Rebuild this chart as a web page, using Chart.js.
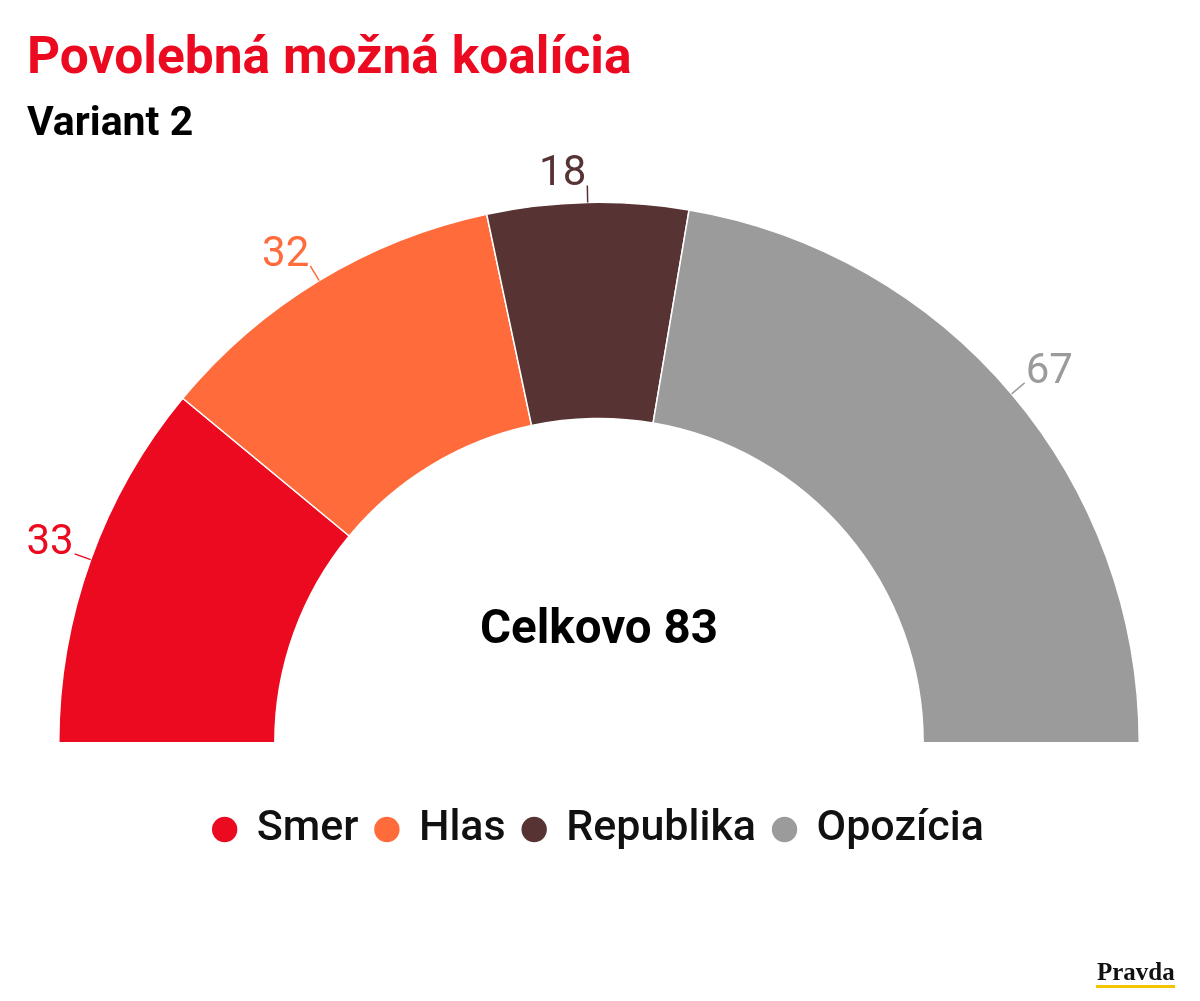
<!DOCTYPE html>
<html>
<head>
<meta charset="utf-8">
<script src="https://cdn.jsdelivr.net/npm/chart.js@4"></script>
<style>
  html, body { margin: 0; padding: 0; background: #fff; }
  #wrap { width: 1200px; height: 1001px; position: relative; }
</style>
</head>
<body>
<div id="wrap"><canvas id="myChart" width="1200" height="1001"></canvas></div>
<script>
// data
var parties = ['Smer', 'Hlas', 'Republika', 'Opozícia'];
var seats = [33, 32, 18, 67];
var coalition = ['Smer', 'Hlas', 'Republika'];
var colors = ['#EB0A20', '#FF6B3A', '#573333', '#9B9B9B'];

var titleText = 'Povolebná možná koalícia';
var subtitleText = 'Variant 2';
var totalLabel = 'Celkovo';

var coalitionTotal = 0;
parties.forEach(function (p, i) {
    if (coalition.indexOf(p) >= 0) coalitionTotal += seats[i];
});

// outside value labels with small leader lines
var valueLabels = {
    id: 'valueLabels',
    afterDatasetsDraw: function (chart) {
        var ctx = chart.ctx;
        var meta = chart.getDatasetMeta(0);
        ctx.save();
        ctx.font = '42px Roboto';
        ctx.textBaseline = 'alphabetic';
        meta.data.forEach(function (arc, i) {
            var p = arc.getProps(['x', 'y', 'startAngle', 'endAngle', 'outerRadius']);
            var mid = (p.startAngle + p.endAngle) / 2;
            var cos = Math.cos(mid), sin = Math.sin(mid);
            var r1 = p.outerRadius, r2 = p.outerRadius + 17;
            var x1 = p.x + cos * r1, y1 = p.y + sin * r1;
            var x2 = p.x + cos * r2, y2 = p.y + sin * r2;
            ctx.strokeStyle = colors[i];
            ctx.lineWidth = 1.5;
            ctx.beginPath();
            ctx.moveTo(x1, y1);
            ctx.lineTo(x2, y2);
            ctx.stroke();
            ctx.fillStyle = colors[i];
            ctx.textAlign = cos < 0 ? 'right' : 'left';
            ctx.fillText(String(seats[i]), x2 + (cos < 0 ? -1 : 1), y2);
        });
        ctx.restore();
    }
};

// titles, centre total and logo
var decorations = {
    id: 'decorations',
    afterDraw: function (chart) {
        var ctx = chart.ctx;
        var arc = chart.getDatasetMeta(0).data[0];
        ctx.save();
        ctx.textAlign = 'left';
        ctx.textBaseline = 'alphabetic';
        ctx.fillStyle = '#EB0A20';
        ctx.font = 'bold 51.5px Roboto';
        ctx.fillText(titleText, 27, 73);
        ctx.fillStyle = '#000';
        ctx.font = 'bold 41px Roboto';
        ctx.fillText(subtitleText, 27, 135);

        ctx.textAlign = 'center';
        ctx.font = 'bold 47.5px Roboto';
        ctx.fillText(totalLabel + ' ' + coalitionTotal, arc.x, arc.y - 100);

        // Pravda logo
        ctx.textAlign = 'left';
        ctx.font = 'bold 25px "Liberation Serif"';
        ctx.fillStyle = '#111';
        ctx.fillText('Pravda', 1097, 980);
        ctx.fillStyle = '#F5C400';
        ctx.fillRect(1096, 985, 79, 3);
        ctx.restore();
    }
};

var ctx = document.getElementById('myChart').getContext('2d');
var myChart = new Chart(ctx, {
    type: 'doughnut',
    data: {
        labels: parties,
        datasets: [{
            data: seats,
            backgroundColor: colors,
            borderColor: '#ffffff',
            borderWidth: 1.5
        }]
    },
    plugins: [valueLabels, decorations],
    options: {
        responsive: false,
        animation: false,
        rotation: -90,
        circumference: 180,
        cutout: '60%',
        layout: {
            padding: { top: 155, left: 58, right: 60, bottom: 140 }
        },
        plugins: {
            legend: {
                display: true,
                position: 'bottom',
                labels: {
                    usePointStyle: true,
                    pointStyle: 'circle',
                    boxWidth: 21,
                    boxHeight: 19,
                    padding: 18,
                    color: '#111',
                    font: { family: 'Roboto', size: 43, weight: '500' }
                }
            },
            tooltip: { enabled: false }
        }
    }
});
</script>
</body>
</html>
